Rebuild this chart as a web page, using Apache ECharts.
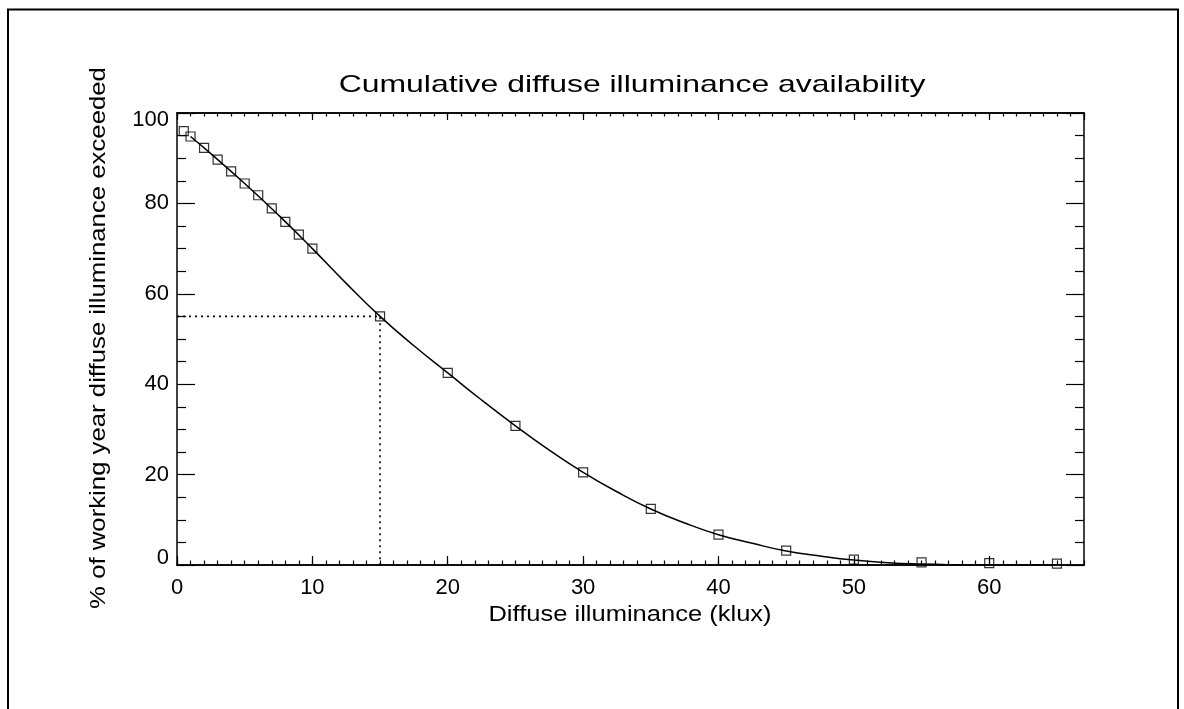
<!DOCTYPE html>
<html>
<head>
<meta charset="utf-8">
<title>Cumulative diffuse illuminance availability</title>
<script src="https://cdn.jsdelivr.net/npm/echarts@6/dist/echarts.min.js"></script>
<style>
  html, body { margin: 0; padding: 0; background: #fff; }
  #chart { width: 1184px; height: 709px; }
</style>
</head>
<body>
<div id="chart"></div>
<script>
// Diffuse illuminance thresholds (klux)
const illuminance = [0.5, 1, 2, 3, 4, 5, 6, 7, 8, 9, 10, 15, 20, 25, 30, 35, 40, 45, 50, 55, 60, 65];
// Percentage of the working year during which each threshold is exceeded
const percentExceeded = [96.0, 94.8, 92.3, 89.7, 87.1, 84.4, 81.8, 78.9, 75.9, 73.1, 70.0, 55.0, 42.5, 30.8, 20.5, 12.4, 6.7, 3.2, 1.2, 0.6, 0.4, 0.3];
// Fitted availability curve, sampled along the illuminance axis
const fitIlluminance = [1, 2.5, 5, 7.5, 10, 12.5, 15, 17.5, 20, 22.5, 25, 27.5, 30, 32.5, 35, 37.5, 40, 42.5, 45, 47.5, 50, 52.5, 55, 57.5, 60, 62.5, 65];
const fitPercent = [94.8, 91.0, 84.4, 77.4, 70.0, 62.3, 55.0, 48.5, 42.5, 36.5, 30.8, 25.4, 20.5, 16.2, 12.4, 9.3, 6.7, 4.8, 3.1, 2.0, 1.1, 0.5, 0.2, 0.05, 0, 0, 0];
// Reading guide: threshold and its exceedance
const guideX = 15;
const guideY = 55;

const titleText = 'Cumulative diffuse illuminance availability';
const xName = 'Diffuse illuminance (klux)';
const yName = '% of working year diffuse illuminance exceeded';

const FONT = '"Liberation Sans", Arial, Helvetica, sans-serif';

const points = illuminance.map((x, i) => [x, percentExceeded[i]]);
const curve = fitIlluminance.map((x, i) => [x, fitPercent[i]]);
const guide = [[0, guideY], [guideX, guideY], [guideX, 0]];

function xAxisDef(position, interval, len, withLabels) {
  return {
    type: 'value', position: position, min: 0, max: 67, interval: interval,
    axisLine: { show: true, onZero: false, lineStyle: { color: '#000', width: 1.5 } },
    axisTick: { show: true, inside: true, length: len, lineStyle: { color: '#000', width: 1.2 } },
    axisLabel: withLabels ? {
      show: true, margin: 12, color: '#000', fontFamily: FONT, fontSize: 22,
      showMaxLabel: false, formatter: v => (v % 10 === 0 ? String(v) : '')
    } : { show: false },
    splitLine: { show: false }
  };
}

function yAxisDef(position, withLabels) {
  return {
    type: 'value', position: position, min: 0, max: 100, interval: 20,
    axisLine: { show: true, onZero: false, lineStyle: { color: '#000', width: 1.5 } },
    axisTick: { show: true, inside: true, length: 18, lineStyle: { color: '#000', width: 1.2 } },
    minorTick: { show: true, splitNumber: 4, length: 9, lineStyle: { color: '#000', width: 1.2 } },
    axisLabel: withLabels ? {
      show: true, margin: 8, color: '#000', fontFamily: FONT, fontSize: 22, lineHeight: 14,
      verticalAlignMaxLabel: 'top', verticalAlignMinLabel: 'bottom'
    } : { show: false },
    splitLine: { show: false }
  };
}

const chart = echarts.init(document.getElementById('chart'), null, { renderer: 'canvas' });

chart.setOption({
  backgroundColor: '#fff',
  animation: false,
  grid: { left: 177, top: 113, right: 100, bottom: 144, containLabel: false },
  xAxis: [
    xAxisDef('bottom', 10, 9, true),
    xAxisDef('bottom', 1, 4.5, false),
    xAxisDef('top', 10, 7, false),
    xAxisDef('top', 1, 3.5, false)
  ],
  yAxis: [
    yAxisDef('left', true),
    yAxisDef('right', false)
  ],
  graphic: [
    {
      type: 'rect', silent: true, z: 100,
      shape: { x: 8, y: 9.5, width: 1170, height: 740 },
      style: { fill: 'none', stroke: '#000', lineWidth: 2 }
    },
    {
      type: 'text', silent: true, x: 632, y: 85, scaleX: 1.33,
      style: { text: titleText, fill: '#000', font: '24px ' + FONT, align: 'center', verticalAlign: 'middle' }
    },
    {
      type: 'text', silent: true, x: 630, y: 615, scaleX: 1.16,
      style: { text: xName, fill: '#000', font: '22px ' + FONT, align: 'center', verticalAlign: 'middle' }
    },
    {
      type: 'text', silent: true, x: 99, y: 338, rotation: Math.PI / 2, scaleX: 1.17,
      style: { text: yName, fill: '#000', font: '22px ' + FONT, align: 'center', verticalAlign: 'middle' }
    }
  ],
  series: [
    {
      name: 'guide', type: 'line', data: guide, xAxisIndex: 0, yAxisIndex: 0,
      symbol: 'none', silent: true,
      lineStyle: { color: '#000', width: 1.6, type: [2, 4] }
    },
    {
      name: 'fit', type: 'line', data: curve, xAxisIndex: 0, yAxisIndex: 0,
      symbol: 'none', smooth: 0.5, silent: true,
      lineStyle: { color: '#000', width: 1.5 }
    },
    {
      name: 'availability', type: 'scatter', data: points, xAxisIndex: 0, yAxisIndex: 0,
      symbol: 'rect', symbolSize: 9,
      itemStyle: { color: 'rgba(0,0,0,0)', borderColor: '#000', borderWidth: 1.2 }
    }
  ]
});
</script>
</body>
</html>
